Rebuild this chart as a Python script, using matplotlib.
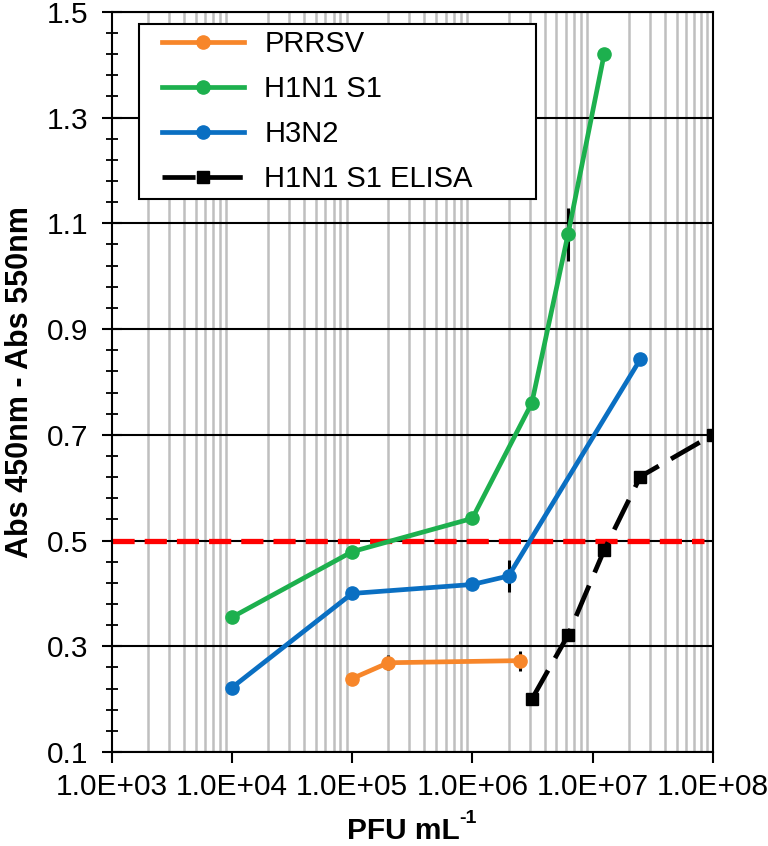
import numpy as np
import matplotlib
matplotlib.use("Agg")
import matplotlib.pyplot as plt
from matplotlib.patches import Rectangle
from matplotlib.ticker import FixedLocator, FuncFormatter, LogLocator, NullFormatter

plt.rcParams['font.family'] = ['Liberation Sans', 'DejaVu Sans']

# data
prrsv_x = [1e5, 2e5, 2.5e6]
prrsv_y = [0.239, 0.269, 0.273]
prrsv_err = [0.0, 0.014, 0.019]

h1n1_x = [1e4, 1e5, 1e6, 3.125e6, 6.25e6, 1.25e7]
h1n1_y = [0.355, 0.479, 0.542, 0.760, 1.079, 1.420]
h1n1_err = [0.0, 0.0, 0.0, 0.0, 0.05, 0.0]

h3n2_x = [1e4, 1e5, 1e6, 2e6, 2.5e7]
h3n2_y = [0.222, 0.400, 0.417, 0.433, 0.843]
h3n2_err = [0.0, 0.0, 0.0, 0.031, 0.0]

elisa_x = [3.125e6, 6.25e6, 1.25e7, 2.5e7, 1e8]
elisa_y = [0.200, 0.321, 0.482, 0.621, 0.700]
elisa_err = [0.0, 0.0, 0.0, 0.0, 0.0]

cutoff = 0.5
cutoff_x = [1e3, 8.5e7]

series = [
    ('PRRSV', prrsv_x, prrsv_y, prrsv_err, '#f7862a', 'o', None),
    ('H1N1 S1', h1n1_x, h1n1_y, h1n1_err, '#1db04e', 'o', None),
    ('H3N2', h3n2_x, h3n2_y, h3n2_err, '#0a6fc2', 'o', None),
    ('H1N1 S1 ELISA', elisa_x, elisa_y, elisa_err, 'black', 's', (7, 3)),
]

fig = plt.figure(figsize=(7.68, 8.46), dpi=100)
ax = fig.add_axes([0.1455, 0.111, 0.7825, 0.875])

ax.set_xscale('log')
ax.set_xlim(1e3, 1e8)
ax.set_ylim(0.1, 1.5)

# grid: gray minor verticals, black horizontals
ax.xaxis.set_minor_locator(LogLocator(base=10, subs=np.arange(2, 10)))
ax.xaxis.set_minor_formatter(NullFormatter())
ax.grid(which='minor', axis='x', color='#bfbfbf', lw=1.8)
ax.yaxis.set_major_locator(FixedLocator(np.arange(0.1, 1.51, 0.2)))
ax.yaxis.set_minor_locator(FixedLocator(np.arange(0.1, 1.51, 0.04)))
ax.grid(which='major', axis='y', color='black', lw=1.5)
ax.set_axisbelow(True)

ax.plot(cutoff_x, [cutoff, cutoff], color='#ff0000', lw=3.8, dashes=(4.2, 1.9), zorder=2)

handles = []
for name, xs, ys, err, col, mk, ds in series:
    ax.errorbar(xs, ys, yerr=err, fmt='none', ecolor='black', elinewidth=2.2, zorder=3)
    kw = dict(color=col, lw=3.4, marker=mk, ms=9.5 if mk == 'o' else 8.5, label=name, zorder=4)
    if ds:
        kw['dashes'] = ds
    ln, = ax.plot(xs, ys, **kw)
    handles.append(ln)

ax.xaxis.set_major_locator(LogLocator(base=10, numticks=10))
ax.xaxis.set_major_formatter(FuncFormatter(lambda v, p: f"{v:.1E}"))
ax.yaxis.set_major_formatter(FuncFormatter(lambda v, p: f"{v:.1f}"))

ax.tick_params(axis='x', which='major', direction='out', length=8, width=1.5, labelsize=21.5, pad=7)
ax.tick_params(axis='x', which='minor', length=0)
ax.tick_params(axis='y', which='major', direction='inout', length=14, width=1.5, labelsize=21.5, pad=10)
ax.tick_params(axis='y', which='minor', direction='inout', length=9, width=1.3)

for s in ax.spines.values():
    s.set_linewidth(1.5)
    s.set_color('black')

ax.set_ylabel('Abs 450nm - Abs 550nm', fontsize=22, fontweight='bold', labelpad=8)
ax.set_xlabel('PFU mL', fontsize=21.5, fontweight='bold')
ax.xaxis.set_label_coords(0.485, -0.088)
ax.annotate('-1', xy=(1.0, 0.95), xycoords=ax.xaxis.label, ha='left', va='center',
            fontsize=14, fontweight='bold')

# legend frame drawn by hand so it can be wider than its contents
ax.add_patch(Rectangle((0.0454, 0.747), 0.660, 0.2368, transform=ax.transAxes,
                       facecolor='white', edgecolor='black', lw=1.5, zorder=5))
leg = ax.legend(handles=handles, loc='upper left', bbox_to_anchor=(0.0837, 0.975),
                fontsize=21, frameon=False, handlelength=2.8, borderpad=0,
                labelspacing=0.58, handletextpad=0.7, borderaxespad=0)
leg.set_zorder(6)

fig.savefig('out.png', dpi=100)
